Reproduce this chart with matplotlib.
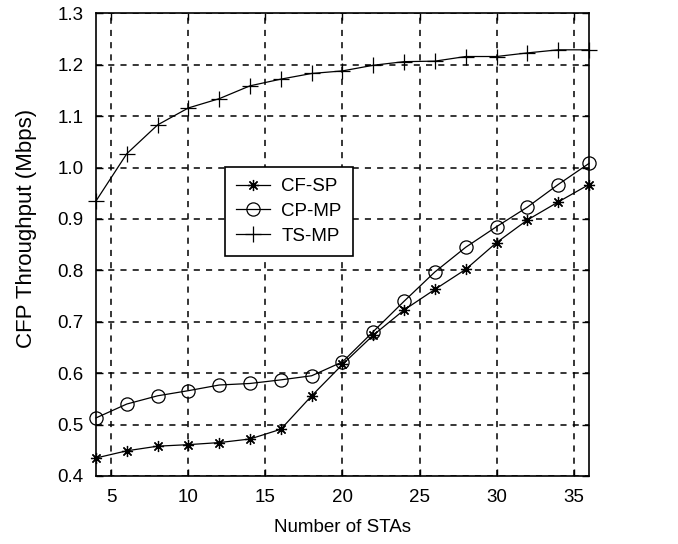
import matplotlib.pyplot as plt

plt.rcParams['font.family'] = ['Liberation Sans', 'DejaVu Sans']

stas = [4, 6, 8, 10, 12, 14, 16, 18, 20, 22, 24, 26, 28, 30, 32, 34, 36]
cf_sp = [0.435, 0.449, 0.458, 0.461, 0.465, 0.472, 0.491, 0.556, 0.617,
         0.674, 0.723, 0.763, 0.802, 0.854, 0.898, 0.933, 0.967]
cp_mp = [0.513, 0.540, 0.556, 0.566, 0.577, 0.580, 0.587, 0.595, 0.622,
         0.681, 0.740, 0.797, 0.845, 0.885, 0.923, 0.967, 1.008]
ts_mp = [0.935, 1.027, 1.083, 1.116, 1.134, 1.159, 1.172, 1.183, 1.188,
         1.199, 1.206, 1.207, 1.216, 1.216, 1.223, 1.229, 1.229]

fig = plt.figure(figsize=(6.78, 5.44), dpi=100)
ax = fig.add_axes([0.1416, 0.125, 0.7271, 0.8505])

ax.plot(stas, cf_sp, color='black', lw=0.9, marker=(8, 2, 0), ms=8,
        mew=0.9, label='CF-SP', clip_on=False)
ax.plot(stas, cp_mp, color='black', lw=0.9, marker='o', ms=9.5,
        mfc='none', mew=0.9, label='CP-MP', clip_on=False)
ax.plot(stas, ts_mp, color='black', lw=0.9, marker='+', ms=12,
        mew=0.9, label='TS-MP', clip_on=False)

ax.set_xlim(4, 36)
ax.set_ylim(0.4, 1.3)
ax.set_xticks([5, 10, 15, 20, 25, 30, 35])
ax.set_yticks([0.4, 0.5, 0.6, 0.7, 0.8, 0.9, 1.0, 1.1, 1.2, 1.3])
ax.set_yticklabels(['0.4', '0.5', '0.6', '0.7', '0.8', '0.9', '1.0',
                    '1.1', '1.2', '1.3'])
ax.tick_params(direction='in', labelsize=13.5, length=5, width=1,
               top=True, right=True, pad=9)
ax.grid(True, color='black', linestyle=(0, (4, 4)), linewidth=1.1)
for s in ax.spines.values():
    s.set_linewidth(1.2)

ax.set_xlabel('Number of STAs', fontsize=13.5)
ax.xaxis.set_label_coords(0.5, -0.092)
ax.set_ylabel('CFP Throughput (Mbps)', fontsize=16)
ax.yaxis.set_label_coords(-0.12, 0.535)

leg = ax.legend(loc='upper left', bbox_to_anchor=(0.262, 0.668),
                fontsize=13.5, frameon=True, fancybox=False, framealpha=1,
                edgecolor='black', borderaxespad=0, handlelength=1.8,
                handletextpad=0.6, labelspacing=0.4, borderpad=0.6)
leg.get_frame().set_linewidth(1.2)

fig.savefig('out.png', dpi=100)
